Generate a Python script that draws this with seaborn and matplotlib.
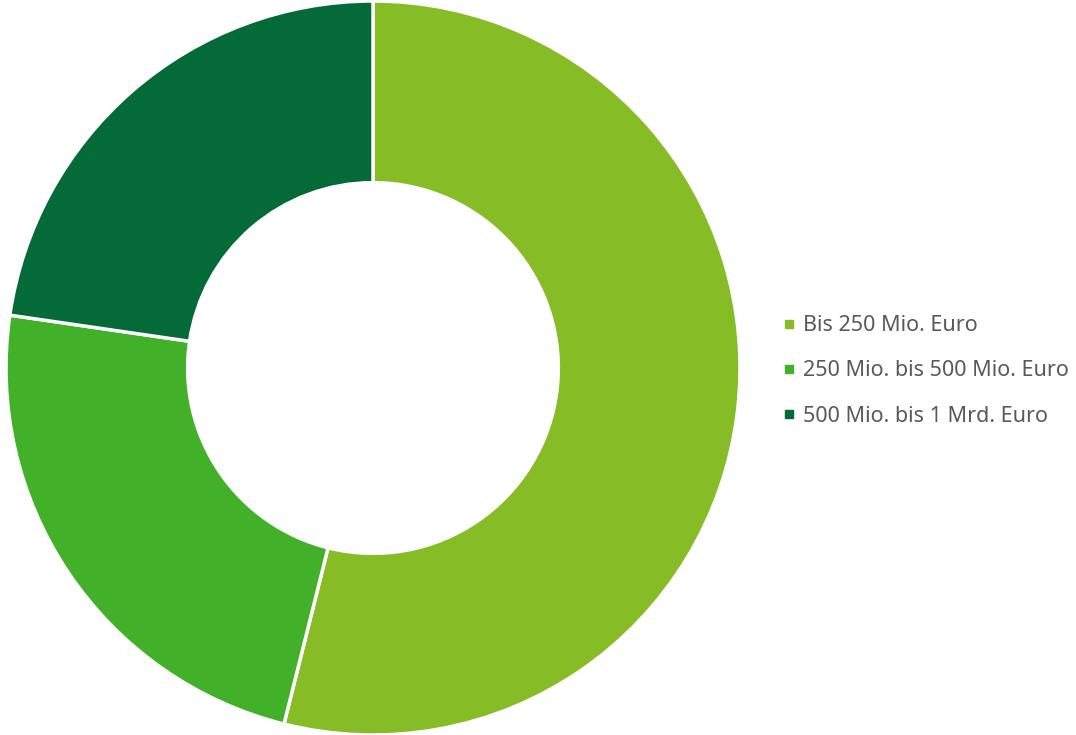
import matplotlib.pyplot as plt
import seaborn as sns
from matplotlib.lines import Line2D

categories = ["Bis 250 Mio. Euro", "250 Mio. bis 500 Mio. Euro", "500 Mio. bis 1 Mrd. Euro"]
shares = [53.9, 23.4, 22.7]
colors = ["#86BC25", "#43B02A", "#046A38"]

sns.set_theme(style="white")
plt.rcParams['font.family'] = ['Noto Sans', 'DejaVu Sans']

fig = plt.figure(figsize=(10.76, 7.35), dpi=100)
# pie centre at ~(373, 368) px, outer radius ~366 px
ax = fig.add_axes([(373 - 367) / 1076, (735 - 368 - 367) / 735, 734 / 1076, 734 / 735])

ax.pie(
    shares,
    colors=colors,
    startangle=90,
    counterclock=False,
    radius=1.0,
    wedgeprops={'width': 0.495, 'edgecolor': 'white', 'linewidth': 2.5},
)
ax.set_xlim(-1.0, 1.0)
ax.set_ylim(-1.0, 1.0)
ax.set_aspect('equal')
ax.axis('off')

handles = [Line2D([0], [0], marker='s', linestyle='none', markersize=6,
                  markerfacecolor=c, markeredgecolor=c) for c in colors]
fig.legend(
    handles, categories,
    loc='center left',
    bbox_to_anchor=(764 / 1076, 1 - 371 / 735),
    frameon=False,
    fontsize=15.5,
    labelcolor='#595959',
    handlelength=0.5,
    handletextpad=0.4,
    labelspacing=1.13,
)

fig.savefig('out.png', dpi=100)
